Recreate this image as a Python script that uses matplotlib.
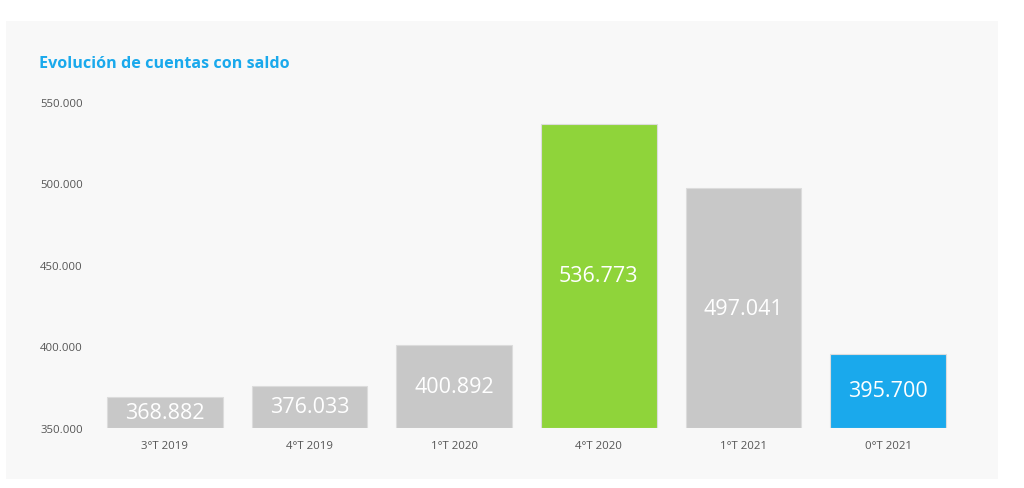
import matplotlib.pyplot as plt
from matplotlib.patches import Rectangle

quarters = ['3°T 2019', '4°T 2019', '1°T 2020', '4°T 2020', '1°T 2021', '0°T 2021']
cuentas = [368882, 376033, 400892, 536773, 497041, 395700]
labels = ['368.882', '376.033', '400.892', '536.773', '497.041', '395.700']
colors = ['#c8c8c8', '#c8c8c8', '#c8c8c8', '#8fd43a', '#c8c8c8', '#1aa9ec']
yticks = [350000, 400000, 450000, 500000, 550000]
ytick_labels = ['350.000', '400.000', '450.000', '500.000', '550.000']

plt.rcParams['font.family'] = ['Open Sans', 'DejaVu Sans']

fig = plt.figure(figsize=(10.24, 4.89), dpi=100)
fig.patch.set_facecolor('white')
fig.patches.append(Rectangle((6 / 1024, 1 - 480 / 489), 992 / 1024, 458 / 489,
                             transform=fig.transFigure, facecolor='#f8f8f8',
                             edgecolor='none', zorder=-10))

ax = fig.add_axes([0.0903, 0.1227, 0.8477, 0.6667])
ax.set_facecolor('none')

x = range(len(quarters))
ax.bar(x, [v - 350000 for v in cuentas], bottom=350000, width=0.8,
       color=colors, edgecolor='#dcdcdc', linewidth=0.8)

for i, v in enumerate(cuentas):
    ax.text(i, (v + 350000) / 2, labels[i], ha='center', va='center',
            color='white', fontsize=15.5)

ax.set_xlim(-0.5, len(quarters) - 0.5)
ax.set_ylim(350000, 550000)
ax.set_xticks(list(x))
ax.set_xticklabels(quarters, fontsize=8.2, color='#555555')
ax.set_yticks(yticks)
ax.set_yticklabels(ytick_labels, fontsize=8.2, color='#555555')
ax.tick_params(length=0)
ax.tick_params(axis='x', pad=9)
ax.tick_params(axis='y', pad=7)
for s in ax.spines.values():
    s.set_visible(False)

fig.text(39 / 1024, 1 - 64 / 489, 'Evolución de cuentas con saldo', color='#1aa9ec',
         fontsize=11.6, fontweight='bold', va='center', ha='left')

fig.savefig('out.png', dpi=100, facecolor='white')
